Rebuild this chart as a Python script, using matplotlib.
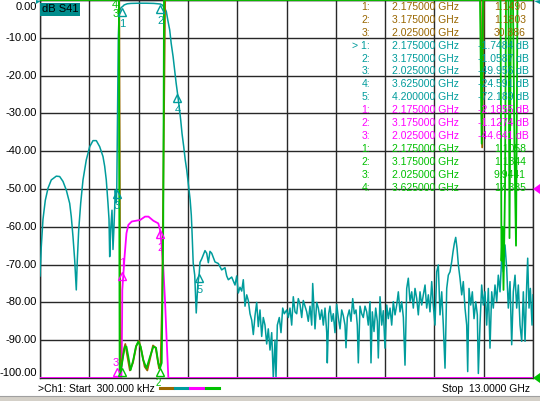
import numpy as np
import matplotlib
matplotlib.use("Agg")
import matplotlib.pyplot as plt
from matplotlib.lines import Line2D
from matplotlib.patches import Rectangle, Polygon

plt.rcParams['font.family'] = ['Liberation Sans', 'DejaVu Sans']

# colours of the four traces
BROWN = '#996600'
TEAL = '#009c9c'
MAGENTA = '#ff00ff'
GREEN = '#00c000'

# ---- S41 trace (teal), GHz / dB ----
s41_f = [0.0003, 0.034, 0.079, 0.140, 0.211, 0.298, 0.430, 0.519, 0.607, 0.694,
         0.783, 0.825, 0.870, 0.915, 0.957, 0.984, 1.021, 1.073, 1.134, 1.221,
         1.311, 1.398, 1.485, 1.574, 1.661, 1.706, 1.748, 1.793, 1.820, 1.838,
         1.864, 1.899, 1.925, 1.951, 1.986, 2.012, 2.025, 2.045, 2.065, 2.085,
         2.110, 2.140, 2.175, 2.220, 2.300, 2.400, 2.600, 2.800, 3.000, 3.100,
         3.175, 3.220, 3.280, 3.330, 3.370, 3.420, 3.460, 3.510, 3.550, 3.590,
         3.625, 3.670, 3.710, 3.745, 3.790, 3.830, 3.870, 3.920, 3.960, 3.990,
         4.010, 4.040, 4.080, 4.120, 4.160, 4.200,
         4.219, 4.264, 4.351, 4.396, 4.439, 4.483, 4.528, 4.615, 4.702, 4.791,
         4.878, 4.923, 4.966, 5.055, 5.142, 5.187, 5.229, 5.274, 5.319, 5.361,
         5.406, 5.451, 5.493, 5.538, 5.583, 5.625, 5.670, 5.714, 5.757, 5.801,
         5.846, 5.888, 5.933, 5.978, 6.020, 6.065, 6.110, 6.152, 6.197, 6.223,
         6.258, 6.310, 6.355, 6.400, 6.442, 6.505, 6.548, 6.592, 6.637, 6.679,
         6.724, 6.769, 6.811, 6.856, 6.901, 6.943, 6.988, 7.033, 7.075, 7.120,
         7.165, 7.191, 7.225, 7.252, 7.297, 7.339, 7.384, 7.429, 7.471, 7.516,
         7.561, 7.576, 7.613, 7.647, 7.692, 7.734, 7.779, 7.824, 7.866, 7.911,
         7.956, 7.998, 8.043, 8.069, 8.104, 8.156, 8.201, 8.246, 8.288, 8.333,
         8.367, 8.394, 8.438, 8.483, 8.525, 8.570,
         8.615, 8.657, 8.702, 8.728, 8.763, 8.808, 8.852, 8.895, 8.921, 8.966,
         9.011, 9.053, 9.098, 9.143, 9.185, 9.230, 9.274, 9.317, 9.362, 9.406,
         9.449, 9.493, 9.538, 9.581, 9.625, 9.670, 9.712, 9.757, 9.802, 9.844,
         9.889, 9.934, 9.976, 10.021, 10.065, 10.108, 10.153, 10.197, 10.240, 10.284,
         10.329, 10.371, 10.416, 10.461, 10.503, 10.548, 10.593, 10.635, 10.680, 10.725,
         10.767, 10.812, 10.857, 10.891, 10.926, 10.962, 10.997, 11.032, 11.075, 11.120,
         11.162, 11.207, 11.252, 11.278, 11.313, 11.357, 11.400, 11.445, 11.490, 11.532,
         11.559, 11.602, 11.647, 11.690, 11.734, 11.779, 11.822, 11.866, 11.911, 11.953,
         11.998, 12.043, 12.085, 12.130, 12.174, 12.217, 12.262, 12.306, 12.349, 12.394,
         12.438, 12.481, 12.526, 12.570, 12.613, 12.658, 12.702, 12.745, 12.790, 12.834,
         12.860, 12.895, 12.930, 12.975, 13.000]
s41_db = [-73, -65.3, -58, -53, -49.8, -47.6, -46.6, -46.7, -48, -50.3,
          -53.8, -57.3, -62.6, -68.8, -76.7, -68.8, -60.8, -53.8, -47.6, -42.3,
          -38.8, -37.2, -37.2, -38.8, -41.4, -44, -47.6, -53.8, -58, -67.9,
          -60.8, -55.6, -66, -60, -50.3, -53.7, -50.0, -30, -10, -4,
          -2.6, -2.0, -1.75, -1.3, -1.0, -0.9, -0.85, -0.85, -0.9, -1.0,
          -1.06, -1.3, -2.0, -3.0, -5.3, -7.9, -11.5, -15, -18.5, -22,
          -24.6, -28.2, -31.7, -35.3, -38.8, -42.3, -45, -49.4, -52.9, -56.9,
          -61.6, -69.6, -72.8, -82.8, -75.4, -72.2,
          -69.4, -68.5, -66.3, -67, -69.5, -66.5, -67, -69.3, -69.7, -71.4,
          -70.8, -73, -74, -73.3, -75.4, -73, -77.5, -76, -77, -74,
          -81, -78, -79.5, -83, -84.7, -88.5, -83.5, -80, -86.4, -82,
          -89, -84, -86, -91, -87, -92.6, -88, -100, -90, -100,
          -86, -84, -88, -81.5, -83, -82, -84, -81.5, -86, -78.5,
          -82.5, -83, -79, -80.5, -84, -79.5, -81, -82.5, -85, -81,
          -86, -75, -82, -87, -80, -81.5, -84.5, -82, -86, -81.5,
          -88, -96, -83, -81, -85, -83, -88, -80.5, -84, -87,
          -82, -83.5, -86, -92, -84, -82, -85, -79, -83, -82,
          -86, -96, -81, -83, -84, -81,
          -82.5, -86, -79.8, -96, -82.5, -87.7, -81.5, -85, -94.7, -78.5,
          -86, -82.2, -92.1, -80.7, -84.3, -81.5, -86, -79.8, -83.3, -80.7,
          -77.2, -82.5, -79.8, -83.9, -96.6, -76.3, -73.6, -79.8, -77.2, -81.5,
          -76.3, -79, -83.3, -77.2, -80.7, -78, -75.4, -81.5, -78, -82.5,
          -74.5, -80.7, -86, -71.9, -70.1, -83.3, -77.2, -86, -97.4, -76.3,
          -72.8, -71.9, -69.2, -66.6, -64.4, -62.8, -65.7, -70.1, -73.6, -78,
          -74.5, -81.5, -86, -98.3, -76.3, -80.7, -77.2, -84.3, -79.8, -83.3,
          -98.8, -86, -75.4, -80.7, -77.2, -86, -76.3, -92.1, -77.2, -81.5,
          -75.4, -79.8, -72.8, -77.2, -68.3, -71.9, -64.8, -71, -81.5, -74.5,
          -91.2, -77.2, -72.8, -81.5, -75.4, -86, -90.3, -77.2, -90.3, -75.4,
          -68.3, -81.5, -76.3, -86, -78]

# ---- magenta trace (display position) ----
mag_f = [0.0003, 2.145, 2.155, 2.165, 2.170, 2.230, 2.280, 2.330, 2.420, 2.640,
         2.770, 2.860, 2.990, 3.120, 3.165, 3.210, 3.250, 3.296, 3.340, 3.385, 13.0]
mag_db = [-100, -100, -95, -85, -76.7, -67.9, -61.7, -59.5, -58.6, -58.2,
          -57.3, -57.3, -58.4, -59.1, -60.8, -65.3, -70.5, -79.4, -90, -100, -100]

# ---- green trace (display position, off-screen = top) ----
grn_f = [0.0003, 2.080, 2.100, 2.150, 2.190, 2.240, 2.280, 2.330, 2.390, 2.460,
         2.530, 2.590, 2.655, 2.720, 2.810, 2.900, 2.990, 3.060, 3.120, 3.165,
         3.210, 3.250, 3.270, 11.603, 11.647, 11.682, 12.143, 12.169, 12.196, 12.222,
         12.262, 12.288, 12.354, 12.380, 12.420, 12.472, 12.512, 12.552, 12.591, 13.0]
grn_db = [0, 0, -99, -97, -94.4, -91.7, -91.7, -94.4, -97.9, -95.2,
          -91.7, -90.4, -91.7, -95.2, -97.4, -94.4, -91.7, -92.0, -96.1, -97.4,
          -96, -60, 0, 0, -38, 0, 0, -69, -60, -76.7,
          -50, 0, 0, -63, 0, 0, -40, -65, 0, 0]

# ---- brown trace (display position, off-screen = top) ----
brn_f = [0.0003, 2.090, 2.120, 2.160, 2.210, 2.250, 2.300, 2.370, 2.450, 2.540,
         2.610, 2.680, 2.760, 2.830, 2.900, 2.980, 3.050, 3.140, 3.180, 3.220,
         3.270, 3.300, 11.620, 11.660, 11.700, 13.0]
brn_db = [0, 0, -98, -96, -92.5, -91, -94, -98, -96, -91.5,
          -90.2, -93, -97, -98, -95, -91.4, -92, -97.5, -96, -80,
          -30, 0, 0, -39, 0, 0]

# marker readout table
tbl_num = ['1:', '2:', '3:', '> 1:', '2:', '3:', '4:', '5:', '1:', '2:', '3:',
           '1:', '2:', '3:', '4:']
tbl_freq = ['2.175000 GHz', '3.175000 GHz', '2.025000 GHz', '2.175000 GHz',
            '3.175000 GHz', '2.025000 GHz', '3.625000 GHz', '4.200000 GHz',
            '2.175000 GHz', '3.175000 GHz', '2.025000 GHz', '2.175000 GHz',
            '3.175000 GHz', '2.025000 GHz', '3.625000 GHz']
tbl_val = ['1.1490', '1.1803', '30.886', '-1.7484 dB', '-1.0587 dB', '-49.956 dB',
           '-24.591 dB', '-72.189 dB', '-2.1855 dB', '-1.1274 dB', '-44.641 dB',
           '1.1058', '1.1344', '9.9441', '17.385']
tbl_col = [BROWN] * 3 + [TEAL] * 5 + [MAGENTA] * 3 + [GREEN] * 4

# teal markers on S41
mk_f = [2.175, 3.175, 3.625, 4.2, 2.025]
mk_db = [-1.75, -1.06, -24.59, -72.19, -49.96]
mk_lbl = ['1', '2', '4', '5', '3']

W, H = 540, 401
fig = plt.figure(figsize=(W / 100, H / 100), dpi=100, facecolor='white')


def fx(px):
    return px / W


def fy(py):
    return 1 - py / H


ax = fig.add_axes([fx(40), fy(378), fx(533) - fx(40), fy(0) - fy(378)])
ax.set_xlim(0.0003, 13.0)
ax.set_ylim(-100, 0)
ax.set_xticks(np.linspace(0.0003, 13.0, 11))
ax.set_yticks(np.arange(-100, 1, 10))
ax.set_xticklabels([])
ax.set_yticklabels([])
ax.tick_params(length=0)
ax.grid(True, color='#282828', lw=1.0)
for s in ax.spines.values():
    s.set_color('#282828')
    s.set_linewidth(1.0)

ax.plot(s41_f, s41_db, color=TEAL, lw=1.1, zorder=3)
ax.plot(mag_f, mag_db, color=MAGENTA, lw=1.3, zorder=4)
ax.plot(brn_f, brn_db, color=BROWN, lw=1.3, zorder=4)
ax.plot(grn_f, grn_db, color=GREEN, lw=1.3, zorder=5)

# marker triangles + numbers
for f, d, t in zip(mk_f, mk_db, mk_lbl):
    ax.plot([f], [d - 1.3], marker='^', ms=6, mfc='none', mec=TEAL, mew=1.0, zorder=6)
    ax.text(f, d - 4.5, t, color=TEAL, fontsize=8, ha='center', va='center', zorder=6)
ax.plot([2.175], [-73], marker='^', ms=6, mfc='none', mec=MAGENTA, zorder=6)
ax.text(2.175, -69.5, '1', color=MAGENTA, fontsize=8, ha='center', va='center')
ax.plot([3.175], [-62], marker='^', ms=6, mfc='none', mec=MAGENTA, zorder=6)
ax.text(3.175, -65.5, '2', color=MAGENTA, fontsize=8, ha='center', va='center')
ax.plot([2.025], [-98.5], marker='^', ms=6, mfc='none', mec=MAGENTA, zorder=6)
ax.text(2.0, -96, '3', color=MAGENTA, fontsize=8, ha='center', va='center')
ax.plot([2.175], [-98.5], marker='^', ms=6, mfc='none', mec=GREEN, zorder=6)
ax.plot([3.175], [-98.5], marker='^', ms=6, mfc='none', mec=GREEN, zorder=6)
ax.text(3.12, -101.2, '2', color=GREEN, fontsize=7, ha='center', va='center', clip_on=False)
ax.text(1.98, -1.2, '4', color=GREEN, fontsize=8, ha='center', va='center')
ax.text(2.0, -3.8, '3', color=GREEN, fontsize=8, ha='center', va='center')

# y labels (instrument style)
for v in range(0, -101, -10):
    yp = min(max(v, -98.6), -1.8)
    ax.text(-0.006, yp, '%.2f' % v, transform=ax.get_yaxis_transform(),
            ha='right', va='center', fontsize=8, clip_on=False)

fig.text(fx(42), fy(9.5), 'dB S41', fontsize=8, ha='left', va='center',
         bbox=dict(facecolor='#008c8c', edgecolor='none', pad=1.2))

# marker table
for i in range(len(tbl_num)):
    yy = fy(7 + 12.9 * i)
    c = tbl_col[i]
    fig.text(fx(370), yy, tbl_num[i], color=c, fontsize=7.5, ha='right', va='center')
    fig.text(fx(392), yy, tbl_freq[i], color=c, fontsize=7.5, ha='left', va='center')
    right = 529 if 'dB' in tbl_val[i] else 526
    fig.text(fx(right), yy, tbl_val[i], color=c, fontsize=7.5, ha='right', va='center')

# bottom status line
fig.text(fx(38), fy(389), '>Ch1: Start  300.000 kHz', fontsize=7.5, ha='left', va='center')
fig.text(fx(530), fy(389), 'Stop  13.0000 GHz', fontsize=7.5, ha='right', va='center')
for x0, c in zip([160, 175, 190, 206], [BROWN, TEAL, MAGENTA, GREEN]):
    fig.add_artist(Line2D([fx(x0), fx(x0 + 13)], [fy(388), fy(388)], color=c, lw=2.2))
fig.add_artist(Rectangle((0, 0), 1, 5 / H, transform=fig.transFigure,
                         facecolor='#d4d0c8', edgecolor='none'))
fig.add_artist(Line2D([0, 1], [5 / H, 5 / H], color='#a0a0a0', lw=0.8))

# reference-level triangles
def tri(pts, c):
    fig.add_artist(Polygon([(fx(a), fy(b)) for a, b in pts], closed=True,
                           facecolor=c, edgecolor='none', transform=fig.transFigure))

tri([(36, 0), (36, 4), (41, 1)], TEAL)
tri([(534, 1), (540, 0), (540, 4)], TEAL)
tri([(533, 189), (540, 184), (540, 194)], MAGENTA)
tri([(533, 378), (540, 373), (540, 383)], GREEN)

fig.savefig('out.png', dpi=100, facecolor='white')
